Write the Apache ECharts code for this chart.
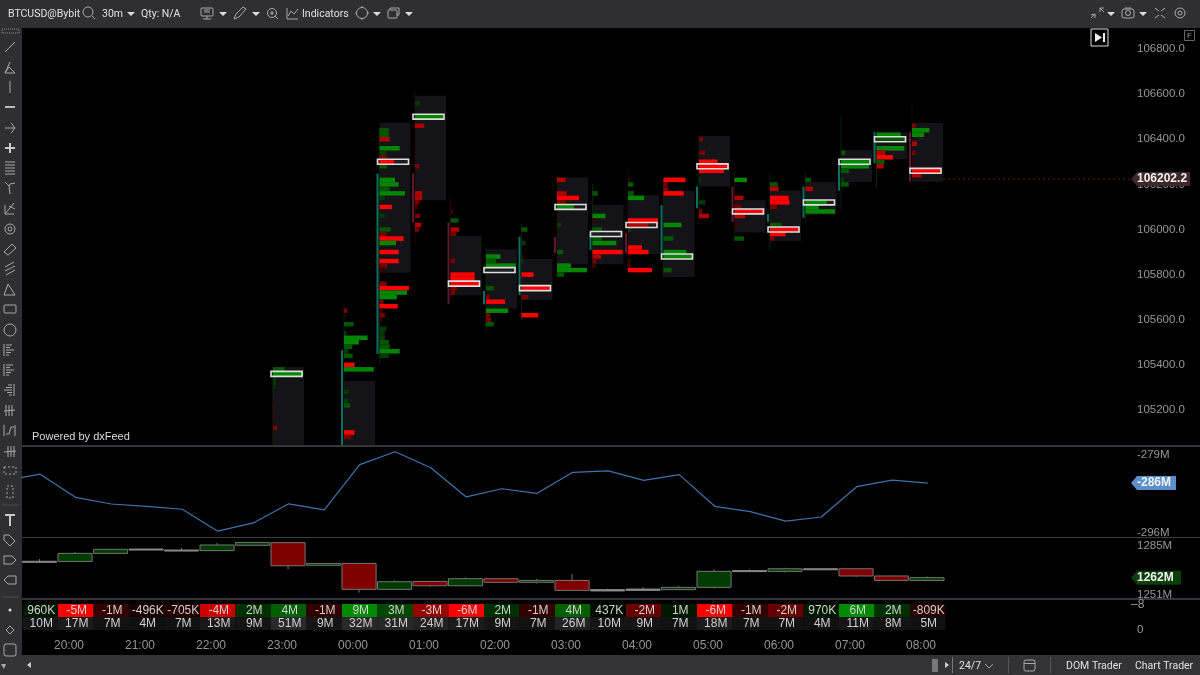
<!DOCTYPE html>
<html>
<head>
<meta charset="utf-8">
<style>html,body{margin:0;background:#000}#main{width:1200px;height:675px}</style>
<script src="https://cdn.jsdelivr.net/npm/echarts@6/dist/echarts.min.js"></script>
</head>
<body>
<div id="main"></div>
<script>
// bars are numbered by 30m slot from the left edge of the chart
const footprintBars = [7, 9, 10, 11, 12, 13, 14, 15, 16, 17, 18, 19, 20, 21, 22, 23, 24, 25];
const rangeTop    = [105390, 105328, 106473, 106593, 105971, 105912, 105869, 106231, 106108, 106152, 106172, 106414, 106130, 106172, 106210, 106352, 106430, 106472];
const rangeBottom = [105045, 105045, 105808, 106130, 105709, 105650, 105687, 105846, 105846, 105891, 105789, 106191, 105987, 105949, 106065, 106210, 106312, 106212];
const wickHigh    = [105390, 105665, 106448, 106618, 106145, 105923, 106027, 106241, 106204, 106266, 106226, 106418, 106263, 106248, 106248, 106500, 106430, 106544];
const wickLow     = [105045, 105045, 105406, 105931, 105702, 105547, 105598, 105776, 105827, 105805, 105790, 106042, 105938, 105909, 106027, 106086, 106182, 106212];
const bodyOpen    = [null, 105045, 105448, 106248, 106031, 105669, 105709, 105967, 105909, 105986, 105894, 106094, 106190, 106034, 106052, 106172, 106293, 106431];
const bodyClose   = [null, 105465, 106248, 106031, 105669, 105727, 105968, 105896, 105986, 105894, 106108, 106190, 106034, 106069, 106190, 106311, 106431, 106212];
const pocPrice    = [105360, null, 106300, 106500, 105760, 105820, 105740, 106100, 105980, 106020, 105880, 106280, 106080, 106000, 106120, 106300, 106400, 106260];

// footprint rows: price, volume (0-100), delta strength (-4..4)
const fp7 = [[105380,38,2],[105360,97,3],[105340,10,1],[105320,10,1],[105300,5,1],[105220,6,-1],[105180,6,-1],[105160,6,-1],[105120,14,-2],[105080,4,-1]];
const fp9 = [[105640,11,-2],[105580,31,2],[105540,8,1],[105520,76,3],[105500,48,3],[105480,27,2],[105460,15,1],[105440,28,2],[105400,34,-4],[105380,96,3],[105320,4,-1],[105280,16,1],[105240,14,1],[105220,20,2],[105100,34,-4],[105080,23,-2]];
const fp10 = [[106440,30,2],[106420,30,2],[106400,33,-3],[106360,65,3],[106340,22,1],[106320,25,-2],[106300,47,-4],[106280,25,2],[106220,50,3],[106200,62,3],[106180,33,2],[106160,82,3],[106140,17,1],[106100,40,-4],[106060,17,1],[106000,36,2],[105980,23,-2],[105960,78,-4],[105940,53,3],[105900,62,-4],[105860,62,-4],[105840,25,-2],[105820,12,-1],[105760,23,-2],[105740,95,-4],[105720,89,3],[105700,56,3],[105680,13,-2],[105660,59,-4],[105640,10,-1],[105620,17,-2],[105600,7,-1],[105560,22,1],[105540,17,1],[105520,17,1],[105500,30,2],[105480,33,2],[105460,65,3],[105440,30,1]];
const fp11 = [[106560,16,1],[106500,92,3],[106460,30,-3],[106360,3,-1],[106280,14,-2],[106160,23,-3],[106140,23,-3],[106120,14,-2],[106100,9,-1],[106060,17,-2],[106020,20,-3],[106000,14,-2]];
const fp12 = [[106080,8,-1],[106040,26,2],[106000,28,-3],[105980,19,-2],[105860,15,-2],[105800,78,-4],[105780,78,-4],[105760,94,-4],[105740,22,-2],[105720,15,-2]];
const fp13 = [[105880,47,3],[105860,32,2],[105840,96,3],[105820,3,1],[105740,25,2],[105700,12,-2],[105680,61,-4],[105640,72,3],[105620,13,-2],[105600,16,-2],[105580,25,2]];
const fp14 = [[106000,19,2],[105940,13,1],[105880,6,-1],[105860,6,1],[105800,39,-4],[105740,94,-4],[105700,22,-2],[105620,54,-4]];
const fp15 = [[106220,28,-3],[106160,31,-3],[106140,71,-4],[106120,28,-2],[106100,55,3],[106020,14,1],[105900,20,2],[105840,45,3],[105820,97,3],[105800,23,2]];
const fp16 = [[106160,17,2],[106060,42,3],[106040,10,-1],[106000,31,2],[105980,3,1],[105960,31,2],[105940,77,3],[105900,97,-4],[105880,28,-3],[105860,12,-2],[105840,12,-1]];
const fp17 = [[106220,6,-1],[106200,17,2],[106160,19,2],[106140,52,3],[106040,97,-4],[106020,66,-3],[106000,8,1],[105920,45,-4],[105900,66,-4],[105860,9,-1],[105840,9,-1],[105820,77,-4]];
const fp18 = [[106220,71,-4],[106200,13,-2],[106180,16,-2],[106160,65,-4],[106020,58,3],[105960,32,2],[105900,74,3],[105880,95,3],[105820,26,2]];
const fp19 = [[106400,13,-2],[106340,20,-2],[106300,60,-4],[106280,96,-4],[106260,80,-4],[106220,6,1],[106120,20,1],[106080,10,-2],[106060,32,-3]];
const fp20 = [[106220,40,3],[106140,29,-3],[106100,22,-2],[106080,94,-4],[106060,34,-3],[106020,10,-1],[105960,31,2]];
const fp21 = [[106200,25,2],[106180,28,-3],[106140,60,-4],[106120,63,-4],[106100,23,-2],[106020,38,2],[106000,95,-4],[105980,50,-4],[105960,15,-2]];
const fp22 = [[106220,18,2],[106180,24,-3],[106120,69,3],[106100,43,3],[106080,95,3]];
const fp23 = [[106340,14,2],[106300,95,3],[106280,90,3],[106260,26,2],[106220,10,1],[106200,25,2]];
const fp24 = [[106420,78,3],[106400,94,2],[106360,90,3],[106340,29,-3],[106320,53,-4],[106300,26,2],[106280,23,-3]];
const fp25 = [[106460,12,-2],[106440,56,3],[106420,39,3],[106380,16,-3],[106340,11,-2],[106300,6,-1],[106260,95,-4],[106240,31,-3]];
const footprints = [fp7, fp9, fp10, fp11, fp12, fp13, fp14, fp15, fp16, fp17, fp18, fp19, fp20, fp21, fp22, fp23, fp24, fp25];

const priceTicks = [105200, 105400, 105600, 105800, 106000, 106200, 106400, 106600, 106800];
const lastPriceText = '106202.2';
const lastPriceLevel = 106224; // where the last price line sits against the printed tick labels

const cvdBefore = -284.6; // bar off the left edge
const cvdValues = [-283.2, -288.3, -289.75, -290.25, -290.9, -295.7, -293.9, -289.7, -291.05, -281.1, -278.3, -281.8, -288.2, -286.4, -287.4, -282.8, -282.5, -284.55, -283.3, -290.25, -291.4, -293.5, -292.6, -285.95, -284.5, -285.15];
const cvdTicks = [-279, -296];
const cvdLabel = '-286M';

// open, close, low, high
const cumVolume = [
  [1274.4,1274.3,1273.8,1276],[1274.3,1279.9,1274.3,1280.8],[1279.9,1282.7,1279.9,1282.7],[1282.7,1282.9,1282.2,1282.9],
  [1282.1,1282.2,1281.8,1283.6],[1281.8,1285.7,1281.8,1287.1],[1285.5,1287.5,1285.5,1287.5],[1287.3,1271.3,1268.8,1287.3],
  [1271.6,1272.9,1271.6,1272.9],[1272.9,1254.9,1252.6,1272.9],[1254.9,1260.2,1254.9,1261.1],[1260.4,1257.4,1256.7,1260.4],
  [1257.4,1262.3,1257.4,1263.2],[1262.3,1259.8,1259.8,1262.3],[1259.8,1261.1,1259,1262.1],[1261.1,1254.2,1254.2,1265.5],
  [1253.8,1254.7,1253.7,1255.4],[1254.2,1255.1,1254.2,1256.5],[1254.7,1256.3,1254.7,1257.2],[1256.3,1267.4,1255.4,1269],
  [1267.3,1267.9,1267.2,1268.8],[1267.4,1269.2,1266.5,1269.9],[1268.6,1269.2,1268.5,1269.2],[1269.2,1264.2,1263.5,1269.2],
  [1264.2,1261.1,1261.1,1264.2],[1261.1,1263,1261.1,1263.9]
];
const cumVolumeTicks = [1285, 1251];
const cumVolumeLabel = '1262M';

const barDelta = [0.96, -5, -1, -0.496, -0.705, -4, 2, 4, -1, 9, 3, -3, -6, 2, -1, 4, 0.437, -2, 1, -6, -1, -2, 0.97, 6, 2, -0.809];
const barVolume = [10, 17, 7, 4, 7, 13, 9, 51, 9, 32, 31, 24, 17, 9, 7, 26, 10, 9, 7, 18, 7, 7, 4, 11, 8, 5];

const timeLabels = ['20:00', '21:00', '22:00', '23:00', '00:00', '01:00', '02:00', '03:00', '04:00', '05:00', '06:00', '07:00', '08:00'];
const firstTimeSlot = 1.31; // 20:00 label position in slots

const SLOT = 35.5, LEFT = 22.5, RIGHT = 1130;
const XMAX = (RIGHT - LEFT) / SLOT;
const PAD = 2 / SLOT, FULL = 31 / SLOT;
const CHROME = '#2f2f32', SEP = '#35353a', LABEL = '#979797', ICON = '#a8a8a8';

function levelColor(d) {
  const a = Math.abs(d);
  if (d > 0) return 'rgb(4,' + [0, 58, 86, 134, 144][a] + ',4)';
  return 'rgb(' + [0, 64, 120, 176, 255][a] + ',0,0)';
}

function deltaText(v) {
  return Math.abs(v) < 1 ? Math.round(v * 1000) + 'K' : v + 'M';
}

function deltaColor(v) {
  if (v > 0) return 'rgb(0,' + Math.min(Math.round(v * 24), 138) + ',0)';
  return 'rgb(' + Math.min(Math.round(-v * 51), 255) + ',0,0)';
}

function volumeColor(v) {
  const g = Math.round(12 + Math.min(v, 32) * 0.9);
  return 'rgb(' + g + ',' + g + ',' + g + ')';
}

function hiddenX(i, extra) {
  return Object.assign({type: 'value', gridIndex: i, min: 0, max: XMAX, show: false, splitLine: {show: false}}, extra);
}

function sideY(i, min, max, ticks, fmt) {
  return {
    type: 'value', gridIndex: i, position: 'right', min: min, max: max, scale: true,
    axisLine: {show: false}, axisTick: {show: false}, splitLine: {show: false},
    axisLabel: {customValues: ticks, formatter: fmt, color: LABEL, fontSize: 11.5, margin: 7, padding: [3, 0, 0, 0], fontFamily: 'Liberation Sans'}
  };
}

// the price tags hanging off the right axis
function tagSeries(gridIndex, value, text, width, fill) {
  return {
    type: 'custom', xAxisIndex: gridIndex, yAxisIndex: gridIndex, z: 10, silent: true,
    data: [[XMAX, value]],
    renderItem: function (params, api) {
      const p = api.coord([api.value(0), api.value(1)]);
      const x = p[0] + 1, y = p[1];
      return {type: 'group', children: [
        {type: 'polygon', shape: {points: [[x, y], [x + 6, y - 7], [x + width, y - 7], [x + width, y + 7], [x + 6, y + 7]]}, style: {fill: fill}},
        {type: 'text', x: x + 6, y: y, style: {text: text, fill: '#f2f2f2', font: 'bold 12px "Liberation Sans"', verticalAlign: 'middle'}}
      ]};
    }
  };
}

const rangeRows = footprintBars.map((b, i) => [b, rangeTop[i], rangeBottom[i]]);
const wickRows = footprintBars.map((b, i) => [b, wickHigh[i], wickLow[i], bodyClose[i] === null ? 0 : bodyClose[i] - bodyOpen[i]]);
const bodyRows = footprintBars.map((b, i) => [b, bodyOpen[i], bodyClose[i]]).filter(r => r[1] !== null);
const levelRows = [];
footprints.forEach((rows, i) => rows.forEach(r => levelRows.push([footprintBars[i], r[0], r[1], r[2]])));
const pocRows = footprintBars.map((b, i) => [b, pocPrice[i]]).filter(r => r[1] !== null);

const series = [
  {
    type: 'custom', silent: true, z: 2, data: rangeRows,
    renderItem: function (params, api) {
      const a = api.coord([api.value(0) + PAD, api.value(1)]), b = api.coord([api.value(0) + PAD + FULL, api.value(2)]);
      return {type: 'rect', shape: {x: a[0], y: a[1], width: b[0] - a[0], height: b[1] - a[1]}, style: {fill: '#141418'}};
    }
  },
  {
    type: 'custom', silent: true, z: 3, data: wickRows,
    renderItem: function (params, api) {
      const a = api.coord([api.value(0) + PAD, api.value(1)]), b = api.coord([api.value(0) + PAD, api.value(2)]);
      return {type: 'line', shape: {x1: a[0], y1: a[1], x2: b[0], y2: b[1]}, style: {stroke: api.value(3) < 0 ? '#240606' : '#06240c', lineWidth: 1}};
    }
  },
  {
    type: 'custom', silent: true, z: 4, data: bodyRows,
    renderItem: function (params, api) {
      const a = api.coord([api.value(0), api.value(1)]), b = api.coord([api.value(0), api.value(2)]);
      return {type: 'line', shape: {x1: a[0], y1: a[1], x2: b[0], y2: b[1]}, style: {stroke: api.value(2) < api.value(1) ? '#5c1a30' : '#0e6e66', lineWidth: 2}};
    }
  },
  {
    type: 'custom', silent: true, z: 5, data: pocRows,
    renderItem: function (params, api) {
      const a = api.coord([api.value(0), api.value(1) + 11]), b = api.coord([api.value(0) + FULL, api.value(1) - 11]);
      return {type: 'rect', shape: {x: a[0], y: a[1], width: b[0] - a[0], height: b[1] - a[1]}, style: {fill: '#1e1e1e'}};
    }
  },
  {
    type: 'custom', silent: true, z: 6, data: levelRows,
    renderItem: function (params, api) {
      const x = api.value(0) + PAD, p = api.value(1);
      const a = api.coord([x, p + 10]), b = api.coord([x + api.value(2) / 100 * FULL, p - 10]);
      return {type: 'rect', shape: {x: a[0], y: a[1], width: b[0] - a[0], height: b[1] - a[1]}, style: {fill: levelColor(api.value(3))}};
    }
  },
  {
    type: 'custom', silent: true, z: 7, data: pocRows,
    renderItem: function (params, api) {
      const a = api.coord([api.value(0), api.value(1) + 11]), b = api.coord([api.value(0) + FULL, api.value(1) - 11]);
      return {type: 'rect', shape: {x: a[0], y: a[1], width: b[0] - a[0], height: b[1] - a[1]}, style: {fill: 'none', stroke: '#dedede', lineWidth: 1.6}};
    }
  },
  {
    type: 'line', silent: true, z: 4, symbol: 'none', data: [[25.93, lastPriceLevel], [XMAX, lastPriceLevel]],
    lineStyle: {color: '#6a1420', width: 1, type: [2, 3]}
  },
  tagSeries(0, lastPriceLevel, lastPriceText, 59, '#3c282d'),
  {
    type: 'line', silent: true, xAxisIndex: 1, yAxisIndex: 1, symbol: 'none', clip: true,
    data: [[-0.5, cvdBefore]].concat(cvdValues.map((v, i) => [i + 0.5, v])),
    lineStyle: {color: '#3f73ad', width: 1.2}
  },
  tagSeries(1, cvdValues[cvdValues.length - 1], cvdLabel, 45, '#5b8fc9'),
  {
    type: 'custom', silent: true, xAxisIndex: 2, yAxisIndex: 2,
    data: cumVolume.map((c, i) => [i].concat(c)),
    renderItem: function (params, api) {
      const i = api.value(0), open = api.value(1), close = api.value(2);
      const top = api.coord([i, Math.max(open, close)]), bot = api.coord([i + 0.96, Math.min(open, close)]);
      const mid = i + 0.48;
      const hi = api.coord([mid, api.value(4)]), lo = api.coord([mid, api.value(3)]);
      const flat = Math.abs(close - open) < 1;
      return {type: 'group', children: [
        {type: 'line', shape: {x1: hi[0], y1: hi[1], x2: lo[0], y2: lo[1]}, style: {stroke: '#777', lineWidth: 1}},
        {type: 'rect', shape: {x: top[0], y: top[1], width: bot[0] - top[0], height: Math.max(bot[1] - top[1], 1)},
          style: {fill: flat ? '#8a8a8a' : (close > open ? '#003c00' : '#800000'), stroke: flat ? '#8a8a8a' : '#757575', lineWidth: 1}}
      ]};
    }
  },
  tagSeries(2, cumVolume[cumVolume.length - 1][1], cumVolumeLabel, 50, '#0a3f0a'),
  {
    type: 'custom', silent: true, xAxisIndex: 3, yAxisIndex: 3,
    data: barDelta.map((v, i) => [i, v, barVolume[i]]),
    renderItem: function (params, api) {
      const i = api.value(0), delta = api.value(1), vol = api.value(2);
      const a = api.coord([i, 2]), m = api.coord([i + 1, 1]), b = api.coord([i + 1, 0]);
      const w = m[0] - a[0];
      const font = '12px "Liberation Sans"';
      return {type: 'group', children: [
        {type: 'rect', shape: {x: a[0], y: a[1], width: w, height: m[1] - a[1]}, style: {fill: deltaColor(delta)}},
        {type: 'rect', shape: {x: a[0], y: m[1], width: w, height: b[1] - m[1]}, style: {fill: volumeColor(vol)}},
        {type: 'text', x: a[0] + w / 2 + 1, y: (a[1] + m[1]) / 2, style: {text: deltaText(delta), fill: '#d0d0d0', font: font, align: 'center', verticalAlign: 'middle'}},
        {type: 'text', x: a[0] + w / 2 + 1, y: (m[1] + b[1]) / 2 + 0.5, style: {text: vol + 'M', fill: '#d0d0d0', font: font, align: 'center', verticalAlign: 'middle'}}
      ]};
    }
  }
];

// --- window chrome around the chart ---
function rect(x, y, w, h, fill, r) { return {type: 'rect', shape: {x: x, y: y, width: w, height: h, r: r || 0}, style: {fill: fill}}; }
function box(x, y, w, h, r, c) { return {type: 'rect', shape: {x: x, y: y, width: w, height: h, r: r || 0}, style: {fill: 'none', stroke: c || ICON, lineWidth: 1}}; }
function seg(x1, y1, x2, y2, c, lw) { return {type: 'line', shape: {x1: x1, y1: y1, x2: x2, y2: y2}, style: {stroke: c || ICON, lineWidth: lw || 1}}; }
function poly(pts, c) { return {type: 'polyline', shape: {points: pts}, style: {stroke: c || ICON, fill: 'none', lineWidth: 1}}; }
function ring(x, y, r, c) { return {type: 'circle', shape: {cx: x, cy: y, r: r}, style: {stroke: c || ICON, fill: 'none', lineWidth: 1}}; }
function caret(x, y) { return {type: 'polygon', shape: {points: [[x - 4, y - 2], [x + 4, y - 2], [x, y + 2]]}, style: {fill: '#ddd'}}; }
function label(x, y, s, fill, size, align) {
  return {type: 'text', x: x, y: y, style: {text: s, fill: fill || '#d8d8d8', font: (size || 10.5) + 'px Roboto', align: align || 'left', verticalAlign: 'middle'}};
}
function bars(x, y, widths, side) {
  return widths.map((w, k) => seg(side > 0 ? x : x - w, y + k * 2.5, side > 0 ? x + w : x, y + k * 2.5));
}

const toolIcons = [
  seg(5, 52, 15, 42),
  poly([[5, 73], [15, 73], [9, 67], [5, 73], [10, 62]]),
  seg(10, 81, 10, 93, '#6a6a6a', 2),
  seg(5, 107, 15, 107, '#bbb', 2),
  seg(5, 128, 15, 128), poly([[11, 123], [15, 128], [11, 133]]),
  seg(5, 148, 15, 148, '#ccc', 2), seg(10, 143, 10, 153, '#ccc', 2),
  ...[162, 165, 168, 171, 174].map(y => seg(5, y, 15, y)),
  poly([[5, 182], [9, 186], [10, 194]]), poly([[15, 183], [10, 184], [9, 186]]),
  seg(14, 203, 5, 214), poly([[5, 205], [5, 214], [14, 214]]), seg(9, 206, 15, 209),
  ring(10, 229, 5), ring(10, 229, 2),
  poly([[4, 252], [12, 244], [16, 248], [8, 255], [4, 252]]),
  seg(5, 267, 14, 262), seg(5, 271, 15, 266), seg(6, 275, 15, 270),
  poly([[4, 295], [8, 284], [15, 295], [4, 295]]),
  box(4, 305, 12, 8, 1),
  ring(10, 330, 6),
  seg(4, 344, 4, 356), ...bars(6, 345, [6, 4, 8, 5, 3], 1),
  seg(4, 364, 4, 376), ...bars(6, 365, [7, 4, 8, 5, 3], 1),
  seg(14, 384, 14, 396), ...bars(12, 385, [4, 6, 8, 5, 3], -1),
  ...[6, 9, 12].map(x => seg(x, 405, x, 416)), seg(4, 411, 15, 410),
  seg(4, 425, 4, 436), seg(15, 425, 15, 436), poly([[6, 434], [9, 434], [11, 427], [14, 427]]),
  ...[8, 11, 14].map(x => seg(x, 446, x, 457)), seg(4, 452, 16, 451),
  {type: 'rect', shape: {x: 4, y: 467, width: 12, height: 7}, style: {fill: 'none', stroke: ICON, lineDash: [2, 2]}},
  {type: 'rect', shape: {x: 7, y: 486, width: 6, height: 12}, style: {fill: 'none', stroke: ICON, lineDash: [2, 2]}},
  seg(2, 505, 19, 505, '#4a4a4e'),
  seg(5, 515, 15, 515, '#c8c8c8', 2), seg(10, 515, 10, 526, '#c8c8c8', 2),
  poly([[4, 535], [9, 535], [15, 541], [10, 546], [4, 540], [4, 535]]),
  poly([[4, 556], [12, 556], [16, 560], [12, 564], [4, 564], [4, 556]]),
  poly([[16, 576], [8, 576], [4, 580], [8, 584], [16, 584], [16, 576]]),
  seg(2, 597, 19, 597, '#4a4a4e'),
  {type: 'circle', shape: {cx: 10, cy: 610, r: 1.5}, style: {fill: '#ddd'}},
  poly([[10, 626], [14, 630], [10, 634], [6, 630], [10, 626]]),
  box(4, 644, 12, 12, 2),
  {type: 'polygon', shape: {points: [[1, 664], [6, 664], [4, 669]]}, style: {fill: '#aaa'}}
];

const topIcons = [
  ring(88, 12, 5), seg(92, 16, 95, 19),
  caret(131, 14),
  box(201, 8, 12, 8, 1), seg(207, 16, 207, 19), seg(203, 19, 211, 19), seg(204, 10, 210, 10), seg(204, 12, 210, 12),
  caret(223, 14),
  poly([[234, 19], [236, 14], [243, 7], [246, 9], [239, 17], [234, 19]]),
  caret(256, 14),
  ring(272, 13, 4.5), seg(270, 13, 274, 13), seg(272, 11, 272, 15), seg(275, 16, 278, 19),
  seg(287, 8, 287, 19), seg(287, 19, 298, 19), poly([[288, 16], [291, 11], [294, 14], [298, 9]]),
  ring(362, 13, 5.5), seg(362, 6, 362, 8), seg(362, 18, 362, 20), seg(355, 13, 357, 13), seg(367, 13, 369, 13),
  caret(377, 14),
  box(388, 10, 9, 8, 1), poly([[390, 10], [390, 8], [399, 8], [399, 15], [397, 15]]),
  caret(409, 14),
  seg(1091, 18, 1095, 14), poly([[1091, 15], [1095, 14], [1095, 18]]), seg(1100, 8, 1104, 12), poly([[1100, 12], [1100, 8], [1104, 8]]),
  caret(1111, 14),
  box(1122, 9, 12, 9, 2), ring(1128, 13, 2.5), seg(1125, 8, 1131, 8),
  caret(1143, 14),
  seg(1155, 8, 1159, 11), seg(1165, 8, 1161, 11), seg(1155, 18, 1159, 15), seg(1165, 18, 1161, 15),
  ring(1180, 13, 5), ring(1180, 13, 2)
];

const graphic = [
  rect(0, 0, 1200, 28, CHROME),
  rect(0, 28, 22, 647, CHROME),
  rect(0, 655, 1200, 20, '#333337'),
  seg(22, 446, 1200, 446, SEP, 2),
  seg(22, 537.5, 1200, 537.5, '#3c3c41', 1),
  seg(22, 599, 1200, 599, SEP, 2),
  {type: 'rect', shape: {x: 2, y: 29, width: 17, height: 4}, style: {fill: 'none', stroke: '#8a8a8a', lineDash: [1, 1]}},
  ...toolIcons,
  ...topIcons,
  label(8, 14, 'BTCUSD@Bybit', '#e0e0e0'),
  label(102, 14, '30m', '#e0e0e0'),
  label(141, 14, 'Qty: N/A', '#e0e0e0'),
  label(302, 14, 'Indicators', '#e0e0e0'),
  {type: 'text', x: 32, y: 437, style: {text: 'Powered by dxFeed', fill: '#dcdcdc', font: '11px "Liberation Sans"', verticalAlign: 'middle'}},
  box(1091, 29, 17, 17, 0, '#dcdcdc'),
  {type: 'polygon', shape: {points: [[1095, 33], [1095, 42], [1102, 37.5]]}, style: {fill: '#eee'}},
  seg(1104, 33, 1104, 42, '#eee', 2),
  box(1184.5, 30.5, 10, 10, 0, '#666'),
  {type: 'text', x: 1189.5, y: 36, style: {text: 'F', fill: '#999', font: '8px "Liberation Sans"', align: 'center', verticalAlign: 'middle'}},
  {type: 'text', x: 1131, y: 605, style: {text: '–8', fill: LABEL, font: '12px "Liberation Sans"', verticalAlign: 'middle'}},
  {type: 'polygon', shape: {points: [[31, 662], [31, 668], [27, 665]]}, style: {fill: '#ccc'}},
  rect(932, 659, 6, 13, '#77777b'),
  {type: 'polygon', shape: {points: [[945, 662], [945, 668], [949, 665]]}, style: {fill: '#ccc'}},
  seg(952.5, 657, 952.5, 673, '#77777b'),
  seg(1008.5, 657, 1008.5, 673, '#55555a'),
  seg(1050.5, 657, 1050.5, 673, '#55555a'),
  label(959, 666, '24/7', '#e0e0e0'),
  poly([[985, 664], [989, 668], [993, 664]]),
  box(1024, 660, 11, 11, 2), seg(1024, 663.5, 1035, 663.5),
  label(1066, 666, 'DOM Trader', '#e0e0e0'),
  label(1135, 666, 'Chart Trader', '#e0e0e0')
];

const option = {
  animation: false,
  backgroundColor: '#000',
  graphic: graphic,
  grid: [
    {left: LEFT, width: RIGHT - LEFT, top: 28, height: 417},
    {left: LEFT, width: RIGHT - LEFT, top: 447, height: 90},
    {left: LEFT, width: RIGHT - LEFT, top: 538, height: 60},
    {left: LEFT, width: RIGHT - LEFT, top: 599, height: 31}
  ],
  xAxis: [
    hiddenX(0), hiddenX(1), hiddenX(2),
    {
      type: 'value', gridIndex: 3, min: 0, max: XMAX,
      axisLine: {show: false}, axisTick: {show: false}, splitLine: {show: false},
      axisLabel: {
        customValues: timeLabels.map((t, i) => firstTimeSlot + i * 2),
        formatter: v => timeLabels[Math.round((v - firstTimeSlot) / 2)],
        color: LABEL, fontSize: 12, margin: 10, fontFamily: 'Liberation Sans'
      }
    }
  ],
  yAxis: [
    sideY(0, 105044.7, 106893.1, priceTicks, v => v.toFixed(1)),
    sideY(1, -296.98, -277.25, cvdTicks, v => v + 'M'),
    sideY(2, 1248.9, 1290.56, cumVolumeTicks, v => v + 'M'),
    sideY(3, 0, 31 / 13, [0], v => String(v))
  ],
  series: series
};

echarts.init(document.getElementById('main')).setOption(option);
</script>
</body>
</html>
